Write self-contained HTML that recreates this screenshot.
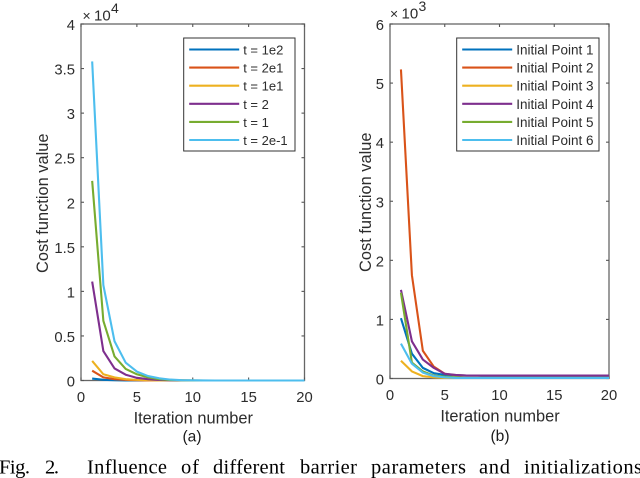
<!DOCTYPE html>
<html>
<head>
<meta charset="utf-8">
<style>
html,body{margin:0;padding:0;background:#fff;width:640px;height:478px;overflow:hidden}
svg{position:absolute;left:0;top:0;filter:blur(0.3px)}
text{font-family:"Liberation Sans",sans-serif;fill:#2c2c2c}
.cap{font-family:"Liberation Serif",serif;fill:#000;font-size:20.5px}
.sub{font-family:"Liberation Sans",sans-serif;fill:#1c1c1c;font-size:15.6px}
</style>
</head>
<body>
<svg id="figure" width="640" height="478" viewBox="0 0 640 478" xmlns="http://www.w3.org/2000/svg">
<text class="sub" x="192" y="441.5" text-anchor="middle">(a)</text>
<text class="sub" x="500" y="441" text-anchor="middle">(b)</text>
<g>
<text class="cap" x="-1" y="473.5" textLength="31" lengthAdjust="spacing">Fig.</text>
<text class="cap" x="45" y="473.5" textLength="14" lengthAdjust="spacing">2.</text>
<text class="cap" x="87" y="473.5" textLength="80" lengthAdjust="spacing">Influence</text>
<text class="cap" x="181" y="473.5" textLength="18" lengthAdjust="spacing">of</text>
<text class="cap" x="213" y="473.5" textLength="72" lengthAdjust="spacing">different</text>
<text class="cap" x="300" y="473.5" textLength="57" lengthAdjust="spacing">barrier</text>
<text class="cap" x="371" y="473.5" textLength="95" lengthAdjust="spacing">parameters</text>
<text class="cap" x="479" y="473.5" textLength="31" lengthAdjust="spacing">and</text>
<text class="cap" x="524" y="473.5" textLength="118" lengthAdjust="spacing">initializations</text>
</g>
</svg>
<script>
const palette = ['#0072bd', '#d95319', '#edb120', '#7e2f8e', '#77ac30', '#4dbeee'];
const iterations = [1,2,3,4,5,6,7,8,9,10,11,12,13,14,15,16,17,18,19,20];
const xTicks = [0,5,10,15,20];

const aLabels = ['t = 1e2','t = 2e1','t = 1e1','t = 2','t = 1','t = 2e-1'];
const aTicks = [0,0.5,1,1.5,2,2.5,3,3.5,4];
const a1 = [0.022,0.008,0.003,0.001,0,0,0,0,0,0,0,0,0,0,0,0,0,0,0,0];
const a2 = [0.11,0.035,0.015,0.007,0.003,0.001,0,0,0,0,0,0,0,0,0,0,0,0,0,0];
const a3 = [0.22,0.07,0.035,0.015,0.007,0.003,0.001,0,0,0,0,0,0,0,0,0,0,0,0,0];
const a4 = [1.11,0.33,0.135,0.065,0.03,0.015,0.006,0.002,0.001,0,0,0,0,0,0,0,0,0,0,0];
const a5 = [2.24,0.67,0.27,0.13,0.07,0.035,0.015,0.005,0.002,0.001,0,0,0,0,0,0,0,0,0,0];
const a6 = [3.58,1.07,0.44,0.2,0.1,0.05,0.025,0.01,0.004,0.002,0.001,0,0,0,0,0,0,0,0,0];

const bLabels = ['Initial Point 1','Initial Point 2','Initial Point 3','Initial Point 4','Initial Point 5','Initial Point 6'];
const bTicks = [0,1,2,3,4,5,6];
const b1 = [1.02,0.42,0.18,0.09,0.06,0.055,0.05,0.05,0.03,0.03,0.03,0.03,0.03,0.03,0.03,0.03,0.03,0.03,0.03,0.03];
const b2 = [5.23,1.75,0.47,0.2,0.08,0.055,0.05,0.05,0.05,0.05,0.05,0.05,0.05,0.05,0.05,0.05,0.05,0.05,0.05,0.05];
const b3 = [0.3,0.12,0.04,0.02,0.01,0.01,0.01,0.01,0.01,0.01,0.01,0.01,0.01,0.01,0.01,0.01,0.01,0.01,0.01,0.01];
const b4 = [1.5,0.63,0.32,0.18,0.08,0.06,0.05,0.05,0.05,0.05,0.05,0.05,0.05,0.05,0.05,0.05,0.05,0.05,0.05,0.05];
const b5 = [1.45,0.27,0.12,0.05,0.03,0.02,0.01,0.01,0.01,0.01,0.01,0.01,0.01,0.01,0.01,0.01,0.01,0.01,0.01,0.01];
const b6 = [0.59,0.25,0.1,0.04,0.02,0.01,0.01,0.01,0.01,0.01,0.01,0.01,0.01,0.01,0.01,0.01,0.01,0.01,0.01,0.01];

const NS = 'http://www.w3.org/2000/svg';
const root = document.getElementById('figure');

function mk(tag, parent, props) {
  const el = document.createElementNS(NS, tag);
  for (const k in props) el.setAttribute(k, props[k]);
  parent.appendChild(el);
  return el;
}

function drawChart(id, box, yMax, yTickVals, expo, expoX, expoY, series, labels, legendBox, ylabelX, legendFont) {
  const g = mk('g', root, {});
  
  
  const xScale = v => box.l + (v / 20) * (box.r - box.l);
  const yScale = v => box.b - (v / yMax) * (box.b - box.t);

  const frame = mk('rect', g, {x: box.l, y: box.t, width: box.r - box.l, height: box.b - box.t, fill: '#fff', stroke: '#666', 'stroke-width': 1.3});
  
  

  xTicks.forEach(v => {
    const x = xScale(v);
    const t1 = mk('line', g, {x1: x, x2: x, y1: box.b, y2: box.b - 3, stroke: '#555', 'stroke-width': 1.1});
    
    
    const t2 = mk('line', g, {x1: x, x2: x, y1: box.t, y2: box.t + 3, stroke: '#555', 'stroke-width': 1.1});
    
    
    const label = mk('text', g, {x: x, y: box.b + 21.5, 'text-anchor': 'middle', 'font-size': 14.8});
    
    
    label.textContent = v;
  });

  yTickVals.forEach(v => {
    const y = yScale(v);
    const t1 = mk('line', g, {x1: box.l, x2: box.l + 3, y1: y, y2: y, stroke: '#555', 'stroke-width': 1.1});
    
    
    const t2 = mk('line', g, {x1: box.r, x2: box.r - 3, y1: y, y2: y, stroke: '#555', 'stroke-width': 1.1});
    
    
    const label = mk('text', g, {x: box.l - 6, y: y + 6, 'text-anchor': 'end', 'font-size': 14.8});
    
    
    label.textContent = v;
  });

  series.forEach((vals, i) => {
    const pts = vals.map((v, j) => xScale(iterations[j]).toFixed(2) + ',' + yScale(v).toFixed(2)).join(' ');
    const line = mk('polyline', g, {points: pts, fill: 'none', stroke: palette[i], 'stroke-width': 2.1, 'stroke-linejoin': 'round'});
    
    
  });

  const expText = mk('text', g, {x: expoX, y: expoY, 'font-size': 15});
  
  
  const expMul = mk('tspan', expText, {x: expoX, 'font-size': 14});
  expMul.textContent = '×';
  const expBase = mk('tspan', expText, {x: expoX + 11.5});
  expBase.textContent = '10';
  const expSup = mk('tspan', expText, {x: expoX + 28.5, dy: -7.5, 'font-size': 14});
  expSup.textContent = expo;

  const yt = mk('text', g, {transform: 'translate(' + ylabelX + ' ' + ((box.t + box.b) / 2 + 1) + ') rotate(-90)', 'text-anchor': 'middle', 'font-size': 16.4});
  
  
  yt.textContent = 'Cost function value';

  const xt = mk('text', g, {x: (box.l + box.r) / 2 + 0.5, y: box.b + 42.8, 'text-anchor': 'middle', 'font-size': 16.4});
  
  
  xt.textContent = 'Iteration number';

  const lg = mk('g', g, {});
  
  
  const lr = mk('rect', lg, {x: legendBox.x, y: 38, width: legendBox.w, height: 113, fill: '#fff', stroke: '#333', 'stroke-width': 1});
  
  
  labels.forEach((s, i) => {
    const y = 49.5 + i * 18.1;
    const sw = mk('line', lg, {x1: legendBox.x + 5.5, x2: legendBox.x + 55.5, y1: y, y2: y, stroke: palette[i], 'stroke-width': 2.1});
    
    
    const tx = mk('text', lg, {x: legendBox.x + 59.5, y: y + 5, 'font-size': legendFont});
    
    
    tx.textContent = s;
  });
}

drawChart('chart-a', {l: 81, r: 304.5, t: 24, b: 380.5}, 4, aTicks, '4', 82.5, 20.7, [a1,a2,a3,a4,a5,a6], aLabels, {x: 183.7, w: 111.3}, 48, 13);
drawChart('chart-b', {l: 390, r: 609, t: 24, b: 378.5}, 6, bTicks, '3', 390, 18.5, [b1,b2,b3,b4,b5,b6], bLabels, {x: 456.7, w: 142.3}, 371, 13.5);
</script>
</body>
</html>
